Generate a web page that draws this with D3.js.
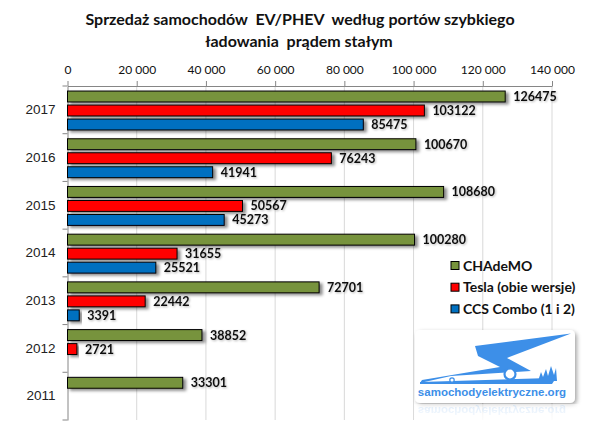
<!DOCTYPE html>
<html>
<head>
<meta charset="utf-8">
<script src="https://cdn.jsdelivr.net/npm/d3@7"></script>
<style>
  body { margin: 0; background: #fff; }
  svg { display: block; }
</style>
</head>
<body>
<div id="main"></div>
<script>
// dane
const years = ["2017", "2016", "2015", "2014", "2013", "2012", "2011"];
const seriesNames = ["CHAdeMO", "Tesla (obie wersje)", "CCS Combo (1 i 2)"];
const chademo = [126475, 100670, 108680, 100280, 72701, 38852, 33301];
const tesla = [103122, 76243, 50567, 31655, 22442, 2721, null];
const ccs = [85475, 41941, 45273, 25521, 3391, null, null];
const xTicks = [0, 20000, 40000, 60000, 80000, 100000, 120000, 140000];
const colors = ["#77933C", "#FF0000", "#0070C0"];

const config = {width: 600, height: 439, left: 67.5, right: 552, top: 86, bottom: 420};

const svg = d3.select("#main").append("svg")
  .attr("width", config.width)
  .attr("height", config.height);

const defs = svg.append("defs");
defs.append("filter").attr("id", "shadow")
  .attr("x", "-10%").attr("y", "-30%").attr("width", "130%").attr("height", "190%")
  .append("feDropShadow")
  .attr("dx", 3).attr("dy", 2).attr("stdDeviation", 1.6)
  .attr("flood-color", "#000").attr("flood-opacity", 0.45);
defs.append("filter").attr("id", "glow")
  .attr("x", "-20%").attr("y", "-50%").attr("width", "140%").attr("height", "200%")
  .append("feDropShadow")
  .attr("dx", 1).attr("dy", 1).attr("stdDeviation", 1.2)
  .attr("flood-color", "#000").attr("flood-opacity", 0.3);
defs.append("filter").attr("id", "boxShadow")
  .attr("x", "-10%").attr("y", "-10%").attr("width", "130%").attr("height", "130%")
  .append("feDropShadow")
  .attr("dx", 2).attr("dy", 2).attr("stdDeviation", 2)
  .attr("flood-color", "#000").attr("flood-opacity", 0.35);
const fade = defs.append("linearGradient").attr("id", "fade")
  .attr("x1", 0).attr("y1", 0).attr("x2", 0).attr("y2", 1);
fade.append("stop").attr("offset", "0%").attr("stop-color", "#fff").attr("stop-opacity", 0.55);
fade.append("stop").attr("offset", "100%").attr("stop-color", "#fff").attr("stop-opacity", 1);

// tytuł
const title = svg.append("g")
  .attr("font-family", "Lato, 'Open Sans', sans-serif")
  .attr("font-weight", "bold")
  .attr("font-size", 16)
  .attr("fill", "#111")
  .attr("text-anchor", "middle");
title.append("text").attr("x", 300).attr("y", 25)
  .text("Sprzedaż samochodów \u00a0EV/PHEV \u00a0według portów szybkiego");
title.append("text").attr("x", 299).attr("y", 47)
  .text("ładowania \u00a0prądem stałym");

// skale
const x = d3.scaleLinear().domain([0, 140000]).range([config.left, config.right]);
const y = d3.scaleBand().domain(years).range([config.top, config.bottom]);
const yInner = d3.scaleBand().domain(seriesNames).range([3.5, 45.5])
  .paddingInner(0.22).paddingOuter(0.11);

// siatka
svg.append("g")
  .selectAll("line")
  .data(xTicks.slice(1))
  .join("line")
  .attr("x1", d => x(d)).attr("x2", d => x(d))
  .attr("y1", config.top).attr("y2", config.bottom)
  .attr("stroke", "#d9d9d9").attr("stroke-width", 1);

// oś X (góra)
const xAxis = d3.axisTop(x).tickValues(xTicks).tickSizeInner(5).tickSizeOuter(0)
  .tickFormat(d => d3.format(",")(d).replace(/,/g, " "));
const gx = svg.append("g")
  .attr("transform", `translate(0,${config.top})`)
  .call(xAxis);
gx.select(".domain").attr("stroke", "#868686");
gx.selectAll(".tick line").attr("stroke", "#868686");
gx.selectAll(".tick text")
  .attr("font-family", "Lato, sans-serif")
  .attr("font-size", 12)
  .attr("fill", "#111")
  .attr("y", -12);

// oś Y (lewa)
const yAxis = d3.axisLeft(y).tickSize(0).tickPadding(12);
const gy = svg.append("g")
  .attr("transform", `translate(${config.left},0)`)
  .call(yAxis);
gy.select(".domain").attr("stroke", "#868686");
gy.selectAll(".tick text")
  .attr("font-family", "'Liberation Sans', Arial, sans-serif")
  .attr("font-size", 13.5)
  .attr("fill", "#222");
gy.append("g")
  .selectAll("line")
  .data(years.map(d => y(d) + y.bandwidth()).concat([config.top]))
  .join("line")
  .attr("x1", -5).attr("x2", 0)
  .attr("y1", d => d).attr("y2", d => d)
  .attr("stroke", "#868686");

// dane do słupków
const allSeries = [chademo, tesla, ccs];
const bars = [];
years.forEach((yr, i) => {
  allSeries.forEach((s, j) => {
    if (s[i] != null) bars.push({year: yr, name: seriesNames[j], value: s[i], color: colors[j]});
  });
});

svg.append("g")
  .selectAll("rect")
  .data(bars)
  .join("rect")
  .attr("x", x(0))
  .attr("y", d => y(d.year) + yInner(d.name))
  .attr("width", d => x(d.value) - x(0))
  .attr("height", yInner.bandwidth())
  .attr("fill", d => d.color)
  .attr("stroke", "#000")
  .attr("stroke-width", 1)
  .attr("filter", "url(#shadow)");

svg.append("g")
  .attr("font-family", "Lato, sans-serif")
  .attr("font-weight", "bold")
  .attr("font-size", 12.5)
  .attr("fill", "#111")
  .selectAll("text")
  .data(bars)
  .join("text")
  .attr("x", d => x(d.value) + 8)
  .attr("y", d => y(d.year) + yInner(d.name) + yInner.bandwidth() / 2)
  .attr("dy", "0.36em")
  .attr("filter", "url(#glow)")
  .text(d => d.value);

// legenda
const legend = svg.append("g").attr("transform", "translate(451,265.5)");
const li = legend.selectAll("g")
  .data(seriesNames)
  .join("g")
  .attr("transform", (d, i) => `translate(0,${i * 21.7})`);
li.append("rect")
  .attr("x", 0).attr("y", -4).attr("width", 8).attr("height", 8)
  .attr("fill", (d, i) => colors[i])
  .attr("stroke", "#000");
li.append("text")
  .attr("x", 12).attr("y", 0).attr("dy", "0.36em")
  .attr("font-family", "Lato, sans-serif")
  .attr("font-weight", "bold")
  .attr("font-size", 14)
  .attr("fill", "#111")
  .text(d => d);

// logo samochodyelektryczne.org
const logo = svg.append("g");
logo.append("rect")
  .attr("x", 415).attr("y", 330).attr("width", 160).attr("height", 73)
  .attr("rx", 5).attr("fill", "#fff")
  .attr("filter", "url(#boxShadow)");
const bolt = logo.append("g");
bolt.append("path")
  .attr("d", "M475,346 L571,333.5 L507,358 L531,371 L451,376 L420,383 L422,380 L500,367 L478,356 Z")
  .attr("fill", "#3d8fe8");
bolt.append("path")
  .attr("d", "M420,382 L550,378 L556,378 L552,384 L420,384 Z")
  .attr("fill", "#3d8fe8");
bolt.append("circle").attr("cx", 510).attr("cy", 374).attr("r", 5.5)
  .attr("fill", "#fff").attr("stroke", "#3d8fe8").attr("stroke-width", 2.2);
bolt.append("circle").attr("cx", 452).attr("cy", 380).attr("r", 2.2)
  .attr("fill", "#fff").attr("stroke", "#3d8fe8").attr("stroke-width", 1.2);
bolt.append("path")
  .attr("d", "M538,381 L541,372 L543,377 L546,369 L548,376 L551,366 L554,375 L556,368 L557,381 Z")
  .attr("fill", "#3d8fe8");
logo.append("text")
  .attr("x", 492).attr("y", 396)
  .attr("text-anchor", "middle")
  .attr("font-family", "'Liberation Sans', Arial, sans-serif")
  .attr("font-weight", "bold")
  .attr("font-size", 11.5)
  .attr("fill", "#3d8fe8")
  .text("samochodyelektryczne.org");
// odbicie
logo.append("text")
  .attr("transform", "translate(0,803) scale(1,-1)")
  .attr("x", 492).attr("y", 396)
  .attr("text-anchor", "middle")
  .attr("font-family", "'Liberation Sans', Arial, sans-serif")
  .attr("font-weight", "bold")
  .attr("font-size", 11.5)
  .attr("fill", "#3d8fe8")
  .attr("opacity", 0.35)
  .text("samochodyelektryczne.org");
logo.append("rect")
  .attr("x", 414).attr("y", 404).attr("width", 165).attr("height", 20)
  .attr("fill", "url(#fade)");
</script>
</body>
</html>
